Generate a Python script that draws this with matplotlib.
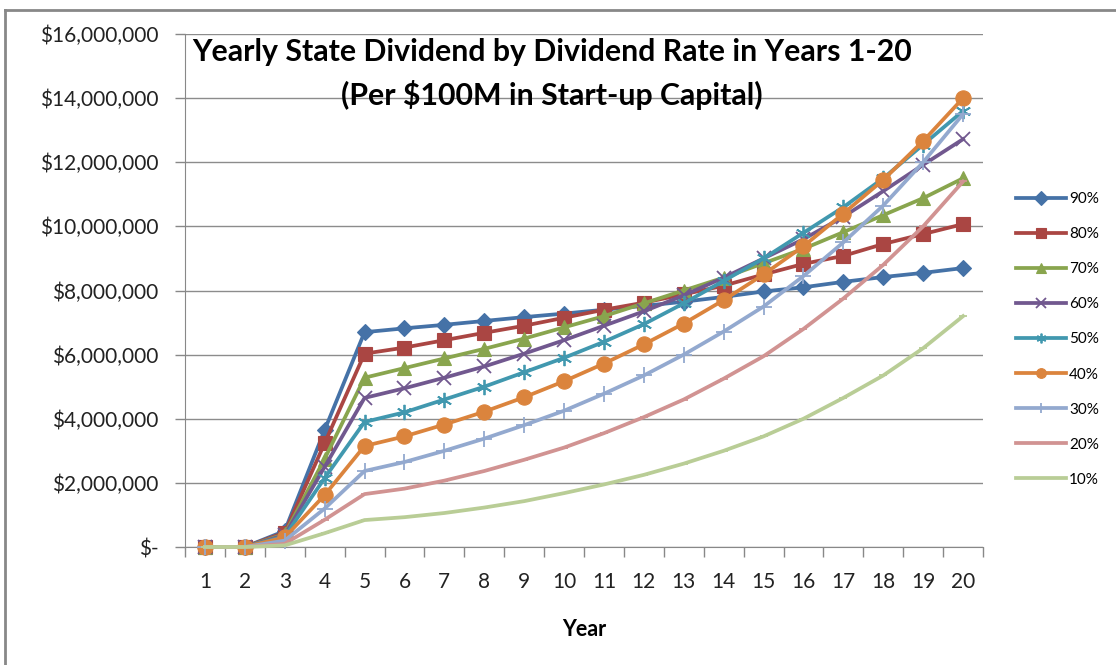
import matplotlib
matplotlib.use("Agg")
import matplotlib.pyplot as plt
from matplotlib.ticker import FuncFormatter, FixedLocator
from matplotlib.lines import Line2D

years = list(range(1, 21))
rates = ["90%", "80%", "70%", "60%", "50%", "40%", "30%", "20%", "10%"]

# values in $ millions
r90 = [0, 0, 0.50, 3.65, 6.70, 6.82, 6.93, 7.05, 7.17, 7.28, 7.40, 7.52, 7.65, 7.80, 7.97, 8.10, 8.27, 8.42, 8.55, 8.70]
r80 = [0, 0, 0.45, 3.24, 6.03, 6.22, 6.45, 6.68, 6.90, 7.15, 7.40, 7.62, 7.88, 8.15, 8.50, 8.83, 9.08, 9.45, 9.76, 10.07]
r70 = [0, 0, 0.40, 2.75, 5.28, 5.58, 5.88, 6.18, 6.50, 6.85, 7.20, 7.60, 8.00, 8.40, 8.85, 9.30, 9.82, 10.35, 10.88, 11.50]
r60 = [0, 0, 0.37, 2.50, 4.65, 4.95, 5.28, 5.63, 6.03, 6.45, 6.90, 7.35, 7.85, 8.40, 9.00, 9.60, 10.30, 11.10, 11.92, 12.72]
r50 = [0, 0, 0.33, 2.15, 3.90, 4.20, 4.60, 5.00, 5.45, 5.90, 6.40, 6.95, 7.60, 8.30, 9.00, 9.80, 10.60, 11.50, 12.55, 13.60]
r40 = [0, 0, 0.30, 1.62, 3.15, 3.45, 3.82, 4.22, 4.67, 5.17, 5.72, 6.32, 6.97, 7.70, 8.50, 9.38, 10.40, 11.45, 12.66, 14.00]
r30 = [0, 0, 0.20, 1.20, 2.37, 2.65, 3.00, 3.38, 3.80, 4.25, 4.78, 5.35, 6.00, 6.72, 7.50, 8.45, 9.50, 10.65, 12.00, 13.50]
r20 = [0, 0, 0.10, 0.85, 1.65, 1.82, 2.07, 2.37, 2.72, 3.10, 3.55, 4.05, 4.60, 5.25, 5.95, 6.80, 7.75, 8.80, 10.00, 11.40]
r10 = [0, 0, 0.05, 0.43, 0.84, 0.93, 1.06, 1.23, 1.43, 1.68, 1.95, 2.25, 2.60, 3.00, 3.45, 4.00, 4.65, 5.35, 6.20, 7.20]
series = [r90, r80, r70, r60, r50, r40, r30, r20, r10]

colors = ["#4572A7", "#AA4643", "#89A54E", "#71588F", "#4198AF",
          "#DB843D", "#93A9CF", "#D19392", "#B9CD96"]
markers = ["D", "s", "^", "x", (6, 2, 0), "o", "+", "_", "_"]
msizes = [8, 10, 10, 10, 11, 11, 12, 6, 6]

plt.rcParams['font.family'] = ['Lato', 'DejaVu Sans']

W, H = 1116, 665
fig = plt.figure(figsize=(W / 100, H / 100), dpi=100)
ax = fig.add_axes([185 / W, 1 - 547 / H, (983 - 185) / W, (547 - 34) / H])

for vals, c, m, ms, lab in zip(series, colors, markers, msizes, rates):
    thin = m in ("x", "+", "_") or isinstance(m, tuple)
    ax.plot(years, [v * 1e6 for v in vals], color=c, lw=2.7, marker=m,
            markersize=ms, markeredgewidth=1.3 if thin else 0.8,
            markeredgecolor=c, markerfacecolor=c, label=lab, solid_joinstyle='round',
            zorder=3, clip_on=False)

ax.set_xlim(0.5, 20.5)
ax.set_ylim(0, 16e6)
ax.set_yticks([i * 2e6 for i in range(9)])

def fmt(v, pos):
    if v == 0:
        return "$-"
    return "${:,.0f}".format(v)

ax.yaxis.set_major_formatter(FuncFormatter(fmt))
ax.set_xticks(years)
ax.xaxis.set_minor_locator(FixedLocator([x + 0.5 for x in range(0, 21)]))
ax.tick_params(axis='x', which='major', length=0, pad=18, labelsize=15, colors='#222222')
ax.tick_params(axis='x', which='minor', length=7, width=1, color='#888888', direction='out')
ax.tick_params(axis='y', which='major', length=7, width=1, color='#888888', pad=12,
               labelsize=15, labelcolor='#222222')
ax.grid(axis='y', color='#8c8c8c', lw=1.0)
ax.set_axisbelow(True)
for s in ['top', 'right']:
    ax.spines[s].set_visible(False)
ax.spines['left'].set_color('#888888')
ax.spines['bottom'].set_color('#888888')

ax.set_xlabel("Year", fontsize=15.5, fontweight='bold', labelpad=19.5)

fig.text(552 / W, 1 - 52 / H, "Yearly State Dividend by Dividend Rate in Years 1-20",
         ha='center', va='center', fontsize=21.8, fontweight='bold')
fig.text(552 / W, 1 - 95 / H, "(Per $100M in Start-up Capital)",
         ha='center', va='center', fontsize=21.8, fontweight='bold')

leg = fig.legend(loc='upper left', bbox_to_anchor=(1010 / W, 1 - 186 / H),
                 frameon=False, fontsize=11, handlelength=3.27, labelspacing=1.38,
                 handletextpad=0.2, borderaxespad=0)
for h in leg.legend_handles:
    h.set_markersize(7)

# outer chart border
fig.add_artist(Line2D([5 / W, 5 / W], [0, 1 - 10 / H], color='#888888', lw=2,
                      transform=fig.transFigure))
fig.add_artist(Line2D([5 / W, 1], [1 - 10 / H, 1 - 10 / H], color='#888888', lw=2,
                      transform=fig.transFigure))

fig.savefig("out.png", dpi=100)
